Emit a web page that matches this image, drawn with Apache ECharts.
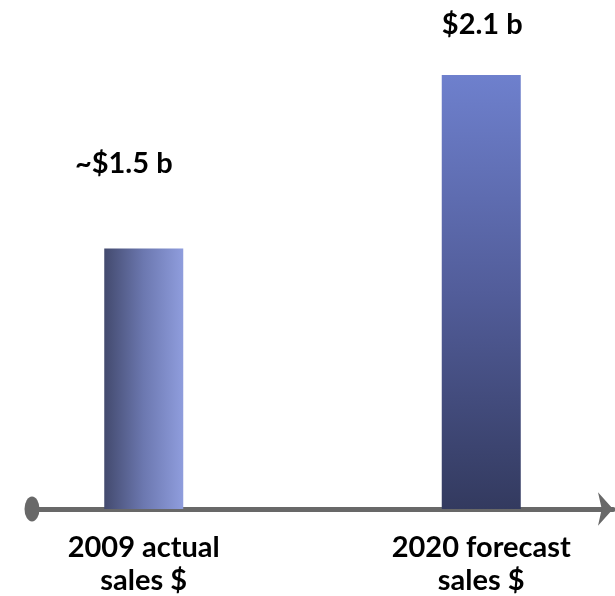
<!DOCTYPE html>
<html><head><meta charset="utf-8">
<script src="https://cdn.jsdelivr.net/npm/echarts@6/dist/echarts.min.js"></script>
<style>html,body{margin:0;padding:0;background:#fff}#c{width:615px;height:596px}</style>
</head><body><div id="c"></div>
<script>
var categories = ['2009 actual\nsales $', '2020 forecast\nsales $'];
var values = [1.5, 2.1];
var valueLabels = ['~$1.5 b', '$2.1 b'];

var font = 'Lato, "Open Sans", sans-serif';
var gradients = [
  new echarts.graphic.LinearGradient(0, 0, 1, 0, [
    {offset: 0, color: '#434a6e'}, {offset: 0.5, color: '#6c78b0'}, {offset: 1, color: '#8f9ddd'}]),
  new echarts.graphic.LinearGradient(0, 0, 0, 1, [
    {offset: 0, color: '#6e80cd'}, {offset: 0.5, color: '#525d9a'}, {offset: 1, color: '#333a5f'}])
];
var labelOffsets = [[-20, -65], [1, -31]];

var chart = echarts.init(document.getElementById('c'), null, {renderer: 'canvas'});
chart.setOption({
  animation: false,
  grid: [
    {left: -25, width: 675, top: 46, bottom: 87, outerBoundsMode: 'none', containLabel: false},
    {left: 32, width: 581, top: 46, bottom: 87, outerBoundsMode: 'none', containLabel: false}
  ],
  xAxis: [
    {type: 'category', gridIndex: 0, data: categories,
     axisLine: {show: false}, axisTick: {show: false},
     axisLabel: {fontFamily: font, fontWeight: 'bold', fontSize: 29, color: '#000', lineHeight: 33, margin: 22}},
    {type: 'category', gridIndex: 1, data: [''],
     axisLine: {show: true, lineStyle: {color: '#686868', width: 5},
       symbol: ['path://M0 30 A50 30 0 1 1 100 30 A50 30 0 1 1 0 30Z', 'arrow'], symbolSize: [25, 15]},
     axisTick: {show: false}, axisLabel: {show: false}}
  ],
  yAxis: [
    {type: 'value', gridIndex: 0, min: 0.6, max: 2.2, show: false},
    {type: 'value', gridIndex: 1, show: false}
  ],
  series: [{
    type: 'bar', xAxisIndex: 0, yAxisIndex: 0, barWidth: 79,
    data: values.map(function (v, i) {
      return {value: v, itemStyle: {color: gradients[i]},
        label: {show: true, position: 'top', offset: labelOffsets[i], formatter: valueLabels[i],
          fontFamily: font, fontWeight: 'bold', fontSize: 29, color: '#000'}};
    })
  }]
});
</script></body></html>
